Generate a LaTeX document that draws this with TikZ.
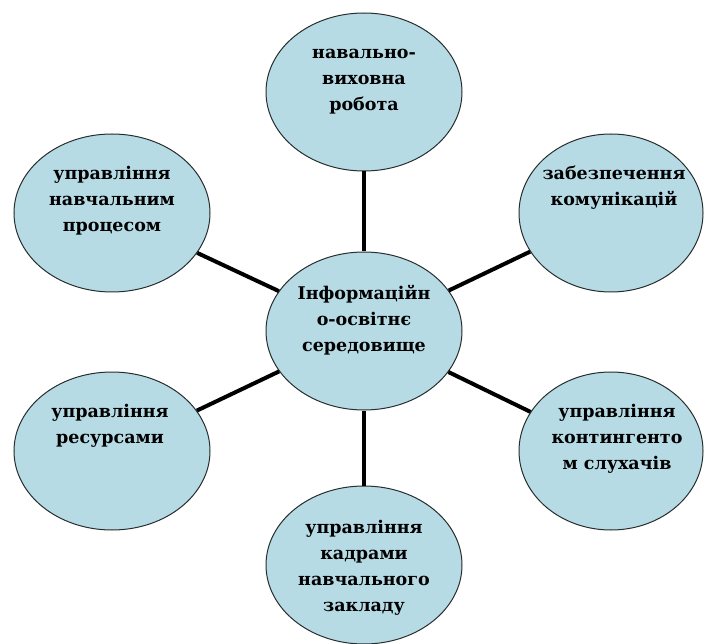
\documentclass[tikz,border=0pt]{standalone}
\usepackage{fontspec}
\setmainfont{DejaVu Serif}
\usetikzlibrary{shapes.geometric}
\definecolor{bubblefill}{RGB}{183,219,229}
\definecolor{bubbleline}{RGB}{40,45,45}
\begin{document}
\begin{tikzpicture}[x=1pt,y=-1pt,
  bubble/.style={ellipse,draw=bubbleline,line width=1pt,fill=bubblefill,
    minimum width=196pt,minimum height=158pt,inner sep=0pt},
  narrow/.style={bubble,minimum width=184pt},
  txt/.style={align=center,inner sep=0pt,
    font=\rmfamily\fontsize{17.5}{26}\selectfont\bfseries},
  link/.style={line width=4pt,black}]
\useasboundingbox (0,0) rectangle (704,644);
\node[bubble] (centre) at (364,331) {};
\node[bubble] (nav) at (364,92) {};
\node[bubble] (proc) at (112,213) {};
\node[narrow] (comm) at (611,213) {};
\node[bubble] (res) at (112,451) {};
\node[narrow] (cont) at (611,451) {};
\node[bubble] (staff) at (364,565) {};
\draw[link] (centre) -- (nav);
\draw[link] (centre) -- (proc);
\draw[link] (centre) -- (comm);
\draw[link] (centre) -- (res);
\draw[link] (centre) -- (cont);
\draw[link] (centre) -- (staff);
\node[txt] (centretxt) at ([yshift=11pt]centre.center) {Інформаційн\\о-освітнє\\середовище};
\node[txt] (navtxt) at ([yshift=10pt]nav.center) {навально-\\виховна\\робота};
\node[txt] (proctxt) at ([yshift=12pt]proc.center) {управління\\навчальним\\процесом};
\node[txt] (commtxt) at ([xshift=3pt,yshift=25pt]comm.center) {забезпечення\\комунікацій};
\node[txt] (restxt) at ([xshift=-2pt,yshift=25pt]res.center) {управління\\ресурсами};
\node[txt] (conttxt) at ([xshift=6pt,yshift=12pt]cont.center) {управління\\контингенто\\м слухачів};
\node[txt] (stafftxt) at ([yshift=-3pt]staff.center) {управління\\кадрами\\навчального\\закладу};
\end{tikzpicture}
\end{document}
